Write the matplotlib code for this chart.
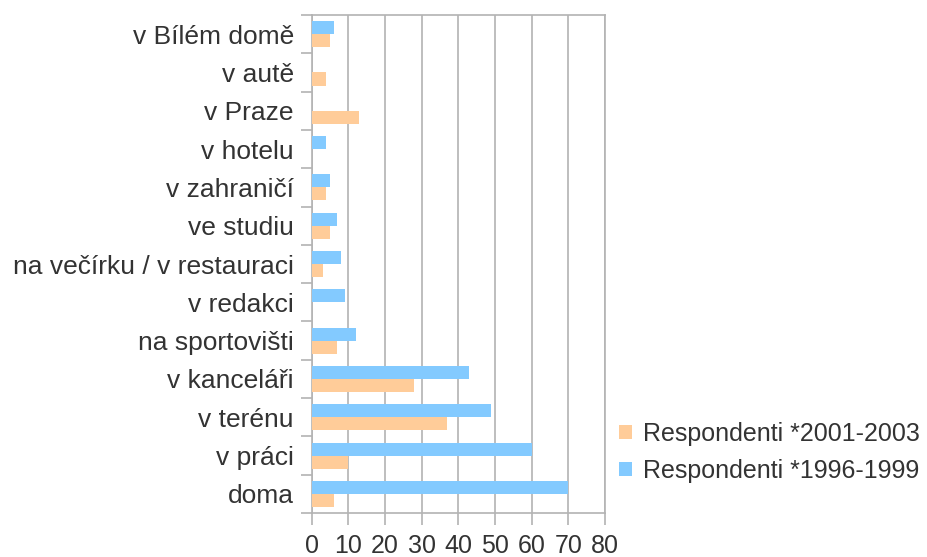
import numpy as np
import matplotlib.pyplot as plt
from matplotlib.ticker import FixedLocator

plt.rcParams['font.family'] = ['Liberation Sans', 'DejaVu Sans']

# kategorie odspodu nahoru
mista = ['doma', 'v práci', 'v terénu', 'v kanceláři', 'na sportovišti',
         'v redakci', 'na večírku / v restauraci', 've studiu', 'v zahraničí',
         'v hotelu', 'v Praze', 'v autě', 'v Bílém domě']
resp_1996 = [70, 60, 49, 43, 12, 9, 8, 7, 5, 4, 0, 0, 6]
resp_2001 = [6, 10, 37, 28, 7, 0, 3, 5, 4, 0, 13, 4, 5]

c_oranz = '#ffcc99'
c_modra = '#83caff'
seda = '#b3b3b3'
text_c = '#333333'

fig = plt.figure(figsize=(9.28, 5.57), dpi=100)
ax = fig.add_axes([0.336, 0.079, 0.316, 0.894])

y = np.arange(len(mista))
h = 0.34
ax.barh(y - h / 2, resp_2001, height=h, color=c_oranz, label='Respondenti *2001-2003', zorder=3)
ax.barh(y + h / 2, resp_1996, height=h, color=c_modra, label='Respondenti *1996-1999', zorder=3)

ax.set_xlim(0, 80)
ax.set_ylim(-0.5, len(mista) - 0.5)
ax.set_xticks(range(0, 81, 10))
ax.set_yticks(y)
ax.set_yticklabels(mista)
ax.yaxis.set_minor_locator(FixedLocator(np.arange(-0.5, len(mista), 1)))
ax.grid(axis='x', color=seda, linewidth=1.2, zorder=0)

for s in ax.spines.values():
    s.set_color(seda)
    s.set_linewidth(1.2)

ax.tick_params(axis='y', which='major', length=0, pad=13, labelsize=19, labelcolor=text_c)
ax.tick_params(axis='y', which='minor', length=8, color=seda, width=1.2)
ax.tick_params(axis='x', length=8.5, color=seda, width=1.2, pad=6.5, labelsize=18, labelcolor=text_c)

hnd, lab = ax.get_legend_handles_labels()
fig.legend(hnd, lab, loc='center left', bbox_to_anchor=(0.643, 0.188), frameon=False,
           fontsize=18, handlelength=0.5, handleheight=0.5, handletextpad=0.45,
           labelcolor=text_c, labelspacing=0.5)

fig.savefig('out.png', dpi=100)
